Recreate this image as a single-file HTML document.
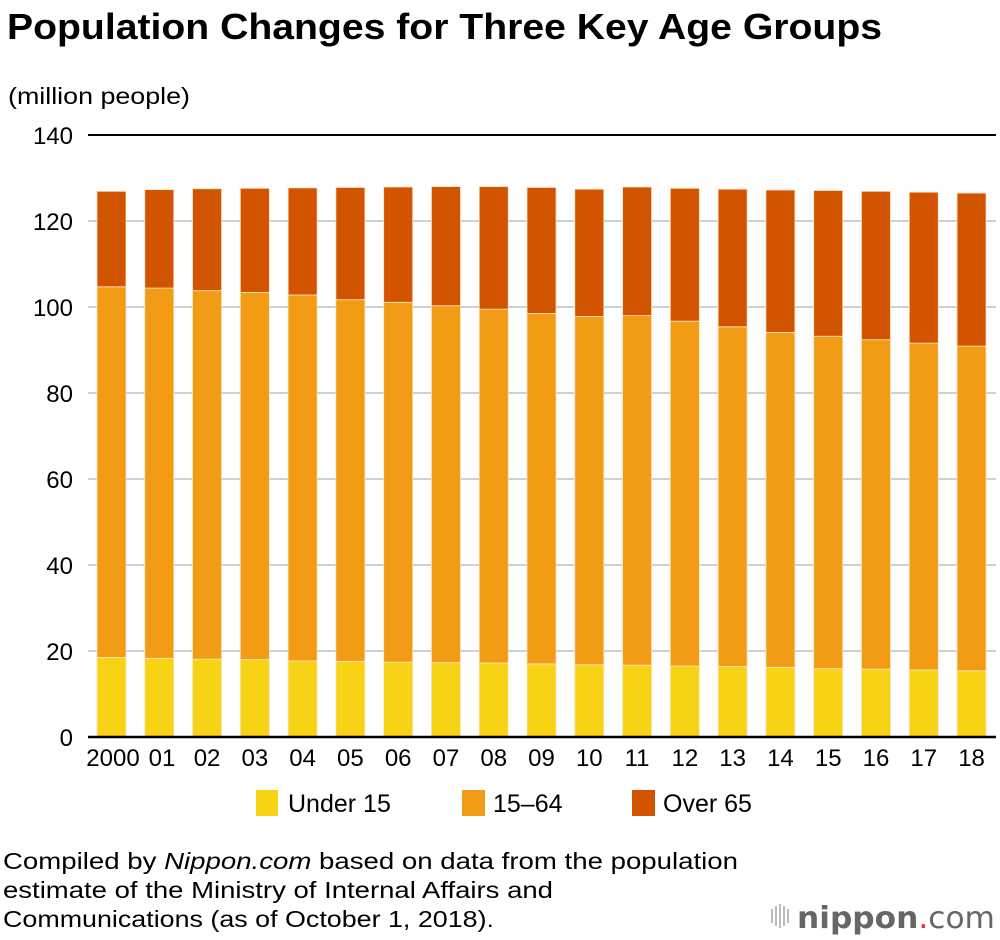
<!DOCTYPE html>
<html><head><meta charset="utf-8"><style>
body{margin:0;background:#fff}
svg{display:block;font-family:"Liberation Sans",Arial,sans-serif}
</style></head><body>
<svg width="1000" height="940" viewBox="0 0 1000 940" xmlns="http://www.w3.org/2000/svg">
<text x="7" y="39" font-size="36" font-weight="bold" fill="#000" textLength="875" lengthAdjust="spacingAndGlyphs">Population Changes for Three Key Age Groups</text>
<text x="8" y="104" font-size="23" fill="#000" textLength="182" lengthAdjust="spacingAndGlyphs">(million people)</text>
<g stroke="#d0d0d0" stroke-width="2">
<line x1="88" x2="996" y1="221" y2="221"/><line x1="88" x2="996" y1="307" y2="307"/>
<line x1="88" x2="996" y1="393" y2="393"/><line x1="88" x2="996" y1="479" y2="479"/>
<line x1="88" x2="996" y1="565" y2="565"/><line x1="88" x2="996" y1="651" y2="651"/>
</g>
<line x1="88" x2="996" y1="135" y2="135" stroke="#000" stroke-width="2"/>
<g font-size="24" text-anchor="end" fill="#000">
<text x="73" y="144">140</text><text x="73" y="230">120</text><text x="73" y="316">100</text>
<text x="73" y="402">80</text><text x="73" y="488">60</text><text x="73" y="574">40</text>
<text x="73" y="660">20</text><text x="73" y="746">0</text>
</g>
<g id="bars" stroke="#fbe3c0" stroke-width="0.8"></g>
<line x1="88" x2="996" y1="737" y2="737" stroke="#000" stroke-width="2.5"/>
<g id="xl" font-size="24" text-anchor="middle" fill="#000"></g>
<rect x="256" y="790" width="22" height="26" fill="#f8d315"/>
<text x="288" y="812" font-size="25">Under 15</text>
<rect x="462" y="790" width="23" height="26" fill="#f29c16"/>
<text x="493" y="812" font-size="25">15–64</text>
<rect x="632" y="790" width="23" height="26" fill="#d35400"/>
<text x="663" y="812" font-size="25">Over 65</text>
<g font-size="23" fill="#000">
<text x="3" y="869" textLength="735" lengthAdjust="spacingAndGlyphs">Compiled by <tspan font-style="italic">Nippon.com</tspan> based on data from the population</text>
<text x="3" y="898" textLength="550" lengthAdjust="spacingAndGlyphs">estimate of the Ministry of Internal Affairs and</text>
<text x="3" y="927" textLength="491" lengthAdjust="spacingAndGlyphs">Communications (as of October 1, 2018).</text>
</g>
<g fill="#bbb">
<rect x="771" y="909" width="2" height="14"/><rect x="775" y="906" width="2" height="20"/>
<rect x="779" y="904" width="2" height="24"/><rect x="783" y="906" width="2" height="20"/>
<rect x="787" y="909" width="2" height="14"/>
</g>
<text x="797" y="928" font-size="30" fill="#666" font-family="DejaVu Sans, sans-serif" textLength="198" lengthAdjust="spacingAndGlyphs"><tspan font-weight="bold">nippon</tspan><tspan fill="#e8283a">.</tspan><tspan>com</tspan></text>
<script>
var d=[[18.5,104.7,126.9],[18.3,104.4,127.3],[18.1,103.8,127.5],[18.0,103.4,127.6],[17.7,102.8,127.7],[17.6,101.7,127.8],[17.4,101.1,127.9],[17.3,100.3,128.0],[17.2,99.5,128.0],[17.0,98.5,127.8],[16.8,97.8,127.4],[16.7,98.0,127.9],[16.5,96.7,127.6],[16.4,95.4,127.4],[16.2,94.1,127.2],[15.9,93.2,127.1],[15.8,92.4,126.9],[15.6,91.6,126.7],[15.4,90.9,126.5]];
var lab=["2000","01","02","03","04","05","06","07","08","09","10","11","12","13","14","15","16","17","18"];
var ns="http://www.w3.org/2000/svg",g=document.getElementById("bars"),xl=document.getElementById("xl");
function y(v){return 737-v*4.3;}
function r(x,a,b,c){var e=document.createElementNS(ns,"rect");e.setAttribute("x",x);e.setAttribute("y",y(b));e.setAttribute("width",29);e.setAttribute("height",y(a)-y(b));e.setAttribute("fill",c);g.appendChild(e);}
d.forEach(function(v,i){var x=97+i*47.78;r(x,0,v[0],"#f8d315");r(x,v[0],v[1],"#f29c16");r(x,v[1],v[2],"#d35400");
var t=document.createElementNS(ns,"text");t.setAttribute("x",i==0?113:(i==1?162:x+14.5));t.setAttribute("y",766);t.textContent=lab[i];xl.appendChild(t);});
</script>
</svg>
</body></html>
